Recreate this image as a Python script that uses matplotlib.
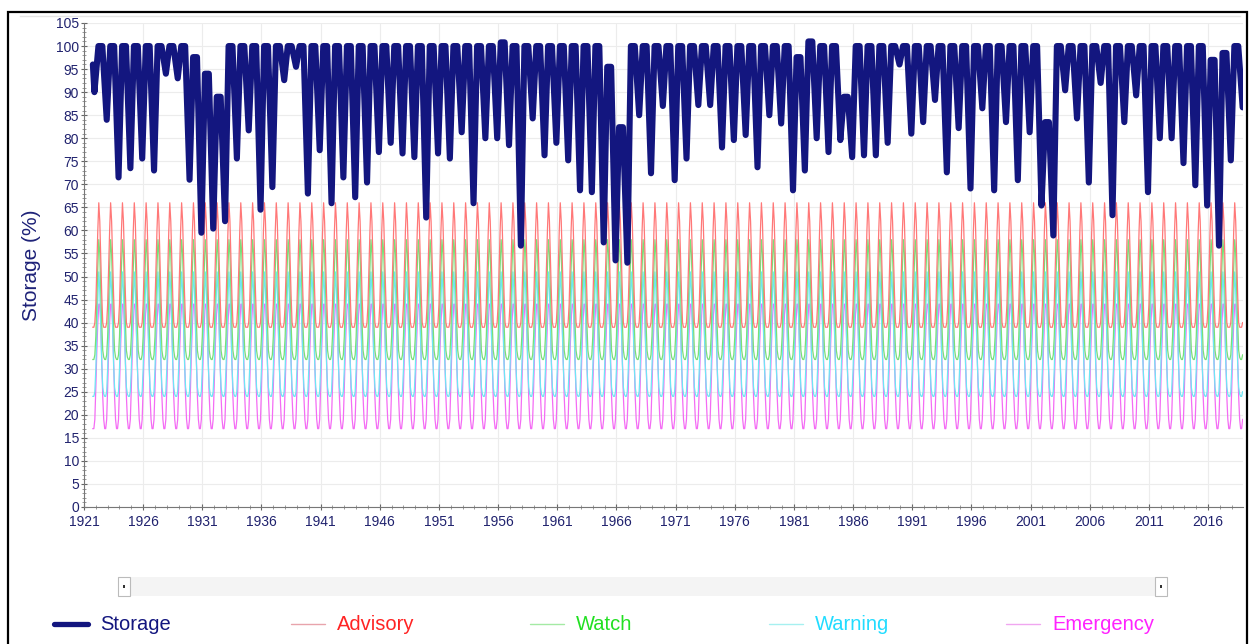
import numpy as np
import matplotlib
matplotlib.use("Agg")
import matplotlib.pyplot as plt
from matplotlib.lines import Line2D
from matplotlib.patches import Rectangle
from matplotlib.ticker import MultipleLocator

plt.rcParams['font.family'] = ['Liberation Sans', 'DejaVu Sans']

# ---------------- data ----------------
low_years = list(range(1921, 2018))
annual_low = [
    90, 84, 71.5, 73.5, 75.6, 73, 94, 93, 71, 59.5,          # 1921-1930
    60.4, 62, 75.6, 81.7, 64.5, 69.4, 92.6, 95.5, 68, 77.4,  # 1931-1940
    65.9, 71.5, 67.2, 70.4, 77, 79, 76.7, 75.9, 62.8, 76.7,  # 1941-1950
    75.6, 81.3, 65.9, 80, 80, 78.5, 56.7, 84.3, 76.3, 79,    # 1951-1960
    75.2, 68.7, 68.3, 57.4, 53.5, 53, 85, 72.4, 87, 70.9,    # 1961-1970
    75.6, 87.2, 87.2, 78, 79.6, 80.7, 73.7, 85, 83.2, 68.7,  # 1971-1980
    73, 80, 77, 79.6, 75.9, 76.3, 76.3, 79, 96, 81,          # 1981-1990
    83.5, 88.3, 72.6, 82.2, 69.1, 86.5, 68.7, 83.5, 70.9, 81.3,  # 1991-2000
    65.4, 58.9, 90.4, 84.3, 70.4, 92, 63.3, 83.5, 89.3, 68.3,    # 2001-2010
    80, 80, 74.6, 69.8, 65.4, 56.7, 75.2,                        # 2011-2017
]
high_years = list(range(1922, 2019))
spring_high = [
    100, 100, 100, 100, 100, 100, 100, 100, 97.6,            # 1922-1930
    94, 89, 100, 100, 100, 100, 100, 100, 100, 100,          # 1931-1940
    100, 100, 100, 100, 100, 100, 100, 100, 100, 100,        # 1941-1950
    100, 100, 100, 100, 100, 100.8, 100, 100, 100, 100,      # 1951-1960
    100, 100, 100, 100, 95.5, 82.4, 100, 100, 100, 100,      # 1961-1970
    100, 100, 100, 100, 100, 100, 100, 100, 100, 100,        # 1971-1980
    97.6, 101, 100, 100, 89, 100, 100, 100, 100, 100,        # 1981-1990
    100, 100, 100, 100, 100, 100, 100, 100, 100, 100,        # 1991-2000
    100, 83.5, 100, 100, 100, 100, 100, 100, 100, 100,       # 2001-2010
    100, 100, 100, 100, 100, 97, 98.5, 100,                  # 2011-2018
]
storage_first = 96.0     # value on the first day of record (Oct 1921)
storage_last = 86.7      # value on the last day of record (late 2018)

# one-year drought-trigger profiles (monthly, Jan..Dec), repeated every year
advisory_profile = [44, 52, 60, 66, 62, 54, 46, 40, 39, 39, 39, 40]
watch_profile = [37, 45, 52, 58, 55, 47, 40, 34, 32.5, 32, 32, 33]
warning_profile = [30, 38, 45, 51, 47, 39, 31, 26, 24.5, 24, 24, 25]
emergency_profile = [26, 34, 40, 44, 44, 40, 32, 24, 19, 17, 17, 19]

x_ticks = list(range(1921, 2017, 5))
y_ticks = list(range(0, 106, 5))

# ---------------- build series ----------------
t_s = [1921.75, 1921.88]
v_s = [storage_first, annual_low[0]]
lows = dict(zip(low_years, annual_low))
for yr, hi in zip(high_years, spring_high):
    t_s += [yr + 0.22, yr + 0.55]
    v_s += [hi, hi]
    if yr in lows:
        t_s.append(yr + 0.92)
        v_s.append(lows[yr])
t_s.append(2018.92)
v_s.append(storage_last)

t_stage, adv, wat, war, eme = [], [], [], [], []
for yr in range(1921, 2019):
    for m in range(12):
        tt = yr + m / 12.0
        if 1921.74 <= tt <= 2018.93:
            t_stage.append(tt)
            adv.append(advisory_profile[m])
            wat.append(watch_profile[m])
            war.append(warning_profile[m])
            eme.append(emergency_profile[m])

# ---------------- figure ----------------
W, H = 1249, 644
fig = plt.figure(figsize=(W / 100, H / 100), dpi=100)
ax = fig.add_axes([84 / W, 1 - 507 / H, (1243 - 84) / W, (507 - 23) / H])

navy = '#13167f'
c_adv, c_wat, c_war, c_eme = '#ff7878', '#78e078', '#6ee6f4', '#f46cf4'

ax.plot(t_stage, eme, color=c_eme, lw=0.9, zorder=2)
ax.plot(t_stage, war, color=c_war, lw=0.9, zorder=2.1)
ax.plot(t_stage, wat, color=c_wat, lw=0.9, zorder=2.2)
ax.plot(t_stage, adv, color=c_adv, lw=0.9, zorder=2.3)
ax.plot(t_s, v_s, color=navy, lw=4.4, solid_joinstyle='round',
        solid_capstyle='round', zorder=3)

ax.set_xlim(1921, 2018.95)
ax.set_ylim(0, 105)
ax.set_xticks(x_ticks)
ax.set_xticklabels([str(v) for v in x_ticks])
ax.set_yticks(y_ticks)
ax.xaxis.set_minor_locator(MultipleLocator(1))
ax.yaxis.set_minor_locator(MultipleLocator(1))
ax.tick_params(axis='both', which='major', length=5, width=0.8, color='#666666',
               labelsize=10, labelcolor='#20226e', direction='inout')
ax.tick_params(axis='x', which='major', pad=3)
ax.tick_params(axis='y', which='major', pad=1)
ax.tick_params(axis='both', which='minor', length=3, width=0.6, color='#888888',
               direction='inout')
for s in ['top', 'right']:
    ax.spines[s].set_visible(False)
for s in ['left', 'bottom']:
    ax.spines[s].set_color('#777777')
    ax.spines[s].set_linewidth(0.8)
ax.grid(True, which='major', color='#ececec', lw=0.8)
ax.set_axisbelow(True)
ax.set_ylabel('Storage (%)', fontsize=15, color='#1e2278', labelpad=11)

# outer frame of the original screenshot
fig.add_artist(Rectangle((8 / W, -0.05), (1247 - 8) / W, 1.05 - 12 / H,
                         transform=fig.transFigure, fill=False,
                         edgecolor='black', lw=1.6))
fig.add_artist(Line2D([20 / W, 1240 / W], [1 - 16 / H, 1 - 16 / H],
                      transform=fig.transFigure, color='#e4e4e4', lw=1))

# scroll bar
fig.add_artist(Rectangle((118 / W, 1 - 596 / H), (1167 - 118) / W, 19 / H,
                         transform=fig.transFigure, facecolor='#f4f4f4',
                         edgecolor='none'))
for bx in (118, 1155):
    fig.add_artist(Rectangle((bx / W, 1 - 596 / H), 12 / W, 19 / H,
                             transform=fig.transFigure, facecolor='white',
                             edgecolor='#bbbbbb', lw=0.8))
    fig.add_artist(Rectangle(((bx + 5) / W, 1 - 588 / H), 2 / W, 3 / H,
                             transform=fig.transFigure, facecolor='#333333',
                             edgecolor='none'))

# legend
ly = 1 - 624 / H
entries = [('Storage', navy, navy, 3.8, 54),
           ('Advisory', '#e8a4ac', '#ff2424', 1.0, 291),
           ('Watch', '#a4eaa4', '#22e022', 1.0, 530),
           ('Warning', '#a6f0f0', '#22dcff', 1.0, 769),
           ('Emergency', '#f0a6f0', '#ff22ff', 1.0, 1006)]
for label, lc, tc, lw, x0 in entries:
    fig.add_artist(Line2D([x0 / W, (x0 + 34) / W], [ly, ly],
                          transform=fig.transFigure, color=lc, lw=lw,
                          solid_capstyle='round'))
    fig.text((x0 + 46) / W, ly, label, color=tc, fontsize=14.5,
             va='center', ha='left')

fig.savefig('out.png', dpi=100)
